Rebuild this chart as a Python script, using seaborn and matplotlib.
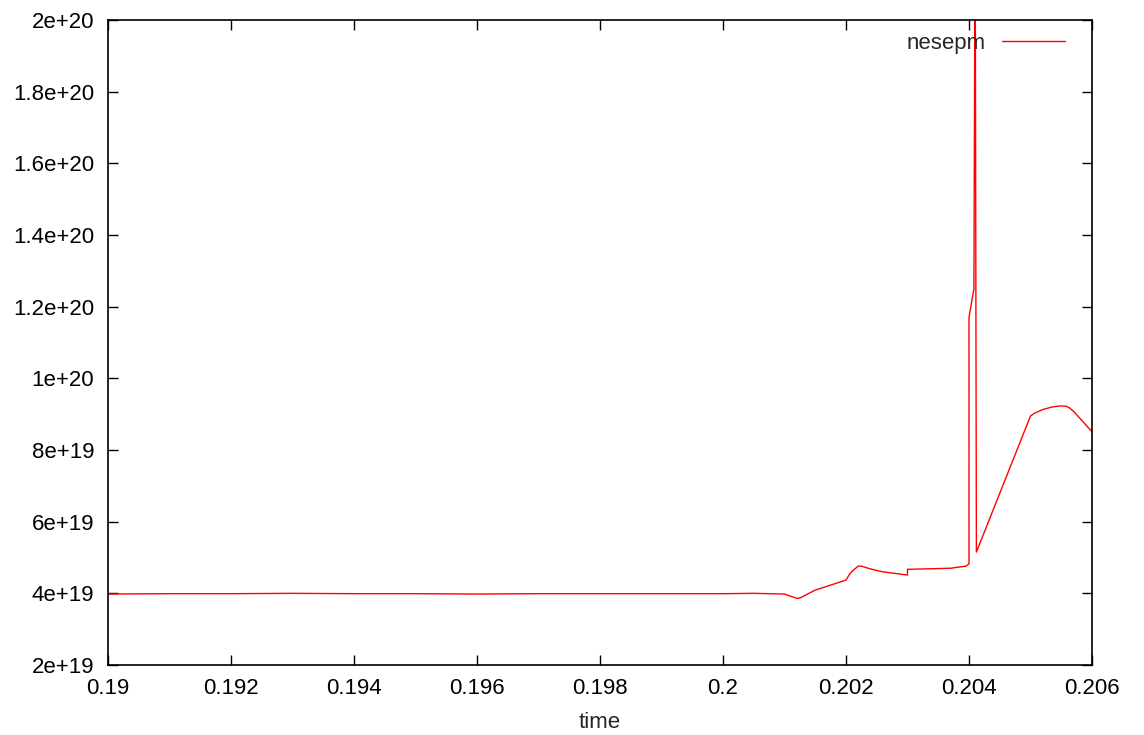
import numpy as np
import pandas as pd
import matplotlib
matplotlib.use('Agg')
import matplotlib.pyplot as plt
import seaborn as sns

# values
time = [0.190, 0.191, 0.192, 0.193, 0.194, 0.195, 0.196, 0.197, 0.198, 0.199,
        0.200, 0.2005, 0.201, 0.2012, 0.20125, 0.2015, 0.2020, 0.20205, 0.2021,
        0.2022, 0.20225, 0.2024, 0.2026, 0.2030, 0.2030, 0.2037, 0.20395,
        0.2040, 0.2040, 0.20408, 0.20410, 0.20412, 0.2050, 0.20507, 0.20520,
        0.20535, 0.20548, 0.20558, 0.20564, 0.20571, 0.2060]
nesepm = [3.98e19, 3.99e19, 3.99e19, 4.00e19, 3.99e19, 3.99e19, 3.98e19, 3.99e19,
          3.99e19, 3.99e19, 3.99e19, 4.00e19, 3.98e19, 3.86e19, 3.87e19, 4.09e19,
          4.37e19, 4.51e19, 4.62e19, 4.76e19, 4.76e19, 4.68e19, 4.60e19, 4.51e19,
          4.67e19, 4.70e19, 4.76e19, 4.82e19, 1.17e20, 1.25e20, 2.3e20, 5.15e19,
          8.95e19, 9.03e19, 9.13e19, 9.20e19, 9.23e19, 9.22e19, 9.17e19, 9.06e19,
          8.51e19]

xticks = [0.19, 0.192, 0.194, 0.196, 0.198, 0.2, 0.202, 0.204, 0.206]
xticklabels = ['0.19', '0.192', '0.194', '0.196', '0.198', '0.2', '0.202', '0.204', '0.206']
yticks = [2e19, 4e19, 6e19, 8e19, 1e20, 1.2e20, 1.4e20, 1.6e20, 1.8e20, 2e20]
yticklabels = ['2e+19', '4e+19', '6e+19', '8e+19', '1e+20', '1.2e+20', '1.4e+20',
               '1.6e+20', '1.8e+20', '2e+20']

df = pd.DataFrame({'time': time, 'nesepm': nesepm})

sns.set_style('ticks')
plt.rcParams['font.family'] = ['Liberation Sans', 'DejaVu Sans']

fig = plt.figure(figsize=(11.44, 7.35), dpi=100)
ax = fig.add_axes([108 / 1144, 70 / 735, 984 / 1144, 645 / 735])

sns.lineplot(data=df, x='time', y='nesepm', ax=ax, color='#ff0000', linewidth=1.0,
             estimator=None, sort=False, label='nesepm')

ax.set_xlim(0.19, 0.206)
ax.set_ylim(2e19, 2e20)
ax.set_xticks(xticks)
ax.set_xticklabels(xticklabels)
ax.set_yticks(yticks)
ax.set_yticklabels(yticklabels)
ax.tick_params(direction='in', top=True, right=True, length=7, width=1,
               labelsize=16, colors='black')
ax.tick_params(axis='x', pad=9)
ax.tick_params(axis='y', pad=10)
for s in ax.spines.values():
    s.set_linewidth(1.2)
    s.set_color('black')
ax.set_xlabel('time', fontsize=16, labelpad=10)
ax.set_ylabel('')

ax.legend(loc='upper right', frameon=False, markerfirst=False, fontsize=16,
          handlelength=2.85, handletextpad=0.7, borderpad=0, borderaxespad=0,
          bbox_to_anchor=(0.9726, 0.98))

fig.savefig('out.png', dpi=100)
